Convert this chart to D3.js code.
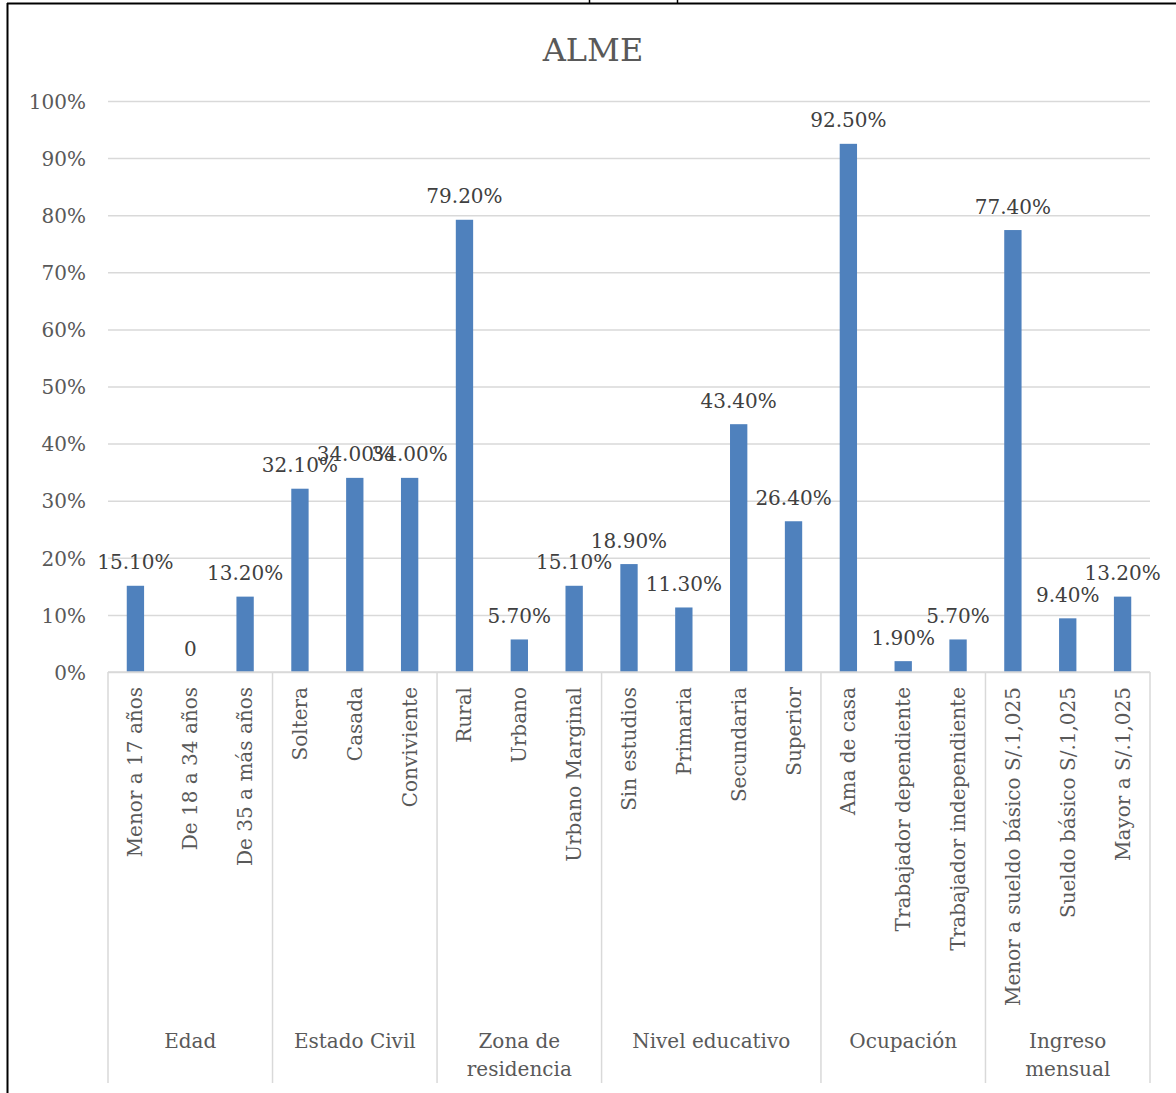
<!DOCTYPE html>
<html>
<head>
<meta charset="utf-8">
<script src="https://cdn.jsdelivr.net/npm/d3@7"></script>
<style>
  html, body { margin: 0; padding: 0; background: #fff; }
  svg { display: block; }
  text { font-family: "DejaVu Serif", "Liberation Serif", serif; }
</style>
</head>
<body>
<svg id="chart" width="1176" height="1093"></svg>
<script>
// Profile categories (bottom axis, rotated)
const categories = [
  "Menor a 17 años", "De 18 a 34 años", "De 35 a más años",
  "Soltera", "Casada", "Conviviente",
  "Rural", "Urbano", "Urbano Marginal",
  "Sin estudios", "Primaria", "Secundaria", "Superior",
  "Ama de casa", "Trabajador dependiente", "Trabajador independiente",
  "Menor a sueldo básico S/.1,025", "Sueldo básico S/.1,025", "Mayor a S/.1,025"
];

// Percentage for each category
const values = [
  15.1, 0, 13.2,
  32.1, 34.0, 34.0,
  79.2, 5.7, 15.1,
  18.9, 11.3, 43.4, 26.4,
  92.5, 1.9, 5.7,
  77.4, 9.4, 13.2
];

// Outer axis level: group names and how many categories each spans
const groupNames = ["Edad", "Estado Civil", "Zona de residencia", "Nivel educativo", "Ocupación", "Ingreso mensual"];
const groupSizes = [3, 3, 3, 4, 3, 3];

const yTicks = [0, 10, 20, 30, 40, 50, 60, 70, 80, 90, 100];
const chartTitle = "ALME";

const svg = d3.select("#chart");

const plot = { left: 108, right: 1150, top: 101, bottom: 672 };

const x = d3.scaleBand()
  .domain(d3.range(categories.length))
  .range([plot.left, plot.right])
  .padding(0);

const y = d3.scaleLinear()
  .domain([0, 100])
  .range([plot.bottom, plot.top]);

const barW = x.bandwidth() * 0.316;
const blue = "#4f81bd";
const gridCol = "#d9d9d9";
const axisText = "#595959";
const labelText = "#404040";

// Frame around the chart
svg.append("line").attr("x1", 7).attr("x2", 1176).attr("y1", 3.5).attr("y2", 3.5)
  .attr("stroke", "#000").attr("stroke-width", 2);
svg.append("line").attr("x1", 7.5).attr("x2", 7.5).attr("y1", 3).attr("y2", 1093)
  .attr("stroke", "#000").attr("stroke-width", 2);
svg.append("line").attr("x1", 589.5).attr("x2", 589.5).attr("y1", 0).attr("y2", 4)
  .attr("stroke", "#000").attr("stroke-width", 1.5);
svg.append("line").attr("x1", 677.5).attr("x2", 677.5).attr("y1", 0).attr("y2", 4)
  .attr("stroke", "#000").attr("stroke-width", 1.5);

// Title
svg.append("text")
  .attr("x", 593).attr("y", 61)
  .attr("text-anchor", "middle")
  .attr("font-size", 32)
  .attr("fill", axisText)
  .text(chartTitle);

// Horizontal gridlines
const yAxis = d3.axisLeft(y)
  .tickValues(yTicks)
  .tickFormat(d => d + "%")
  .tickSize(-(plot.right - plot.left))
  .tickPadding(22);

const gy = svg.append("g")
  .attr("transform", `translate(${plot.left},0)`)
  .call(yAxis);
gy.select(".domain").remove();
gy.selectAll(".tick line").attr("stroke", gridCol).attr("stroke-width", 1.5);
gy.selectAll(".tick text")
  .attr("font-size", 20)
  .attr("font-family", "DejaVu Serif, serif")
  .attr("fill", axisText)
  .attr("dy", "0.36em");

// Bars
svg.append("g").selectAll("rect")
  .data(values)
  .join("rect")
  .attr("x", (d, i) => x(i) + x.bandwidth() / 2 - barW / 2)
  .attr("width", barW)
  .attr("y", d => y(d))
  .attr("height", d => y(0) - y(d))
  .attr("fill", blue);

// Value labels
svg.append("g").selectAll("text")
  .data(values)
  .join("text")
  .attr("x", (d, i) => x(i) + x.bandwidth() / 2)
  .attr("y", d => y(d) - 16.5)
  .attr("text-anchor", "middle")
  .attr("font-size", 20)
  .attr("fill", labelText)
  .text(d => d === 0 ? "0" : d.toFixed(2) + "%");

// Category axis line
svg.append("line")
  .attr("x1", plot.left).attr("x2", plot.right)
  .attr("y1", y(0)).attr("y2", y(0))
  .attr("stroke", gridCol).attr("stroke-width", 1.5);

// Rotated category labels
svg.append("g").selectAll("text")
  .data(categories)
  .join("text")
  .attr("transform", (d, i) => `translate(${x(i) + x.bandwidth() / 2 + 7},${y(0) + 15}) rotate(-90)`)
  .attr("text-anchor", "end")
  .attr("font-size", 20)
  .attr("fill", axisText)
  .text(d => d);

// Group separators and group labels
const bounds = [0];
groupSizes.forEach(n => bounds.push(bounds[bounds.length - 1] + n));
const edgeX = i => i < categories.length ? x(i) : plot.right;

svg.append("g").selectAll("line")
  .data(bounds)
  .join("line")
  .attr("x1", d => edgeX(d)).attr("x2", d => edgeX(d))
  .attr("y1", y(0)).attr("y2", 1083)
  .attr("stroke", gridCol).attr("stroke-width", 1.5);

groupNames.forEach((name, gi) => {
  const x0 = edgeX(bounds[gi]);
  const x1 = edgeX(bounds[gi + 1]);
  const cx = (x0 + x1) / 2;
  const maxW = x1 - x0 - 20;
  const t = svg.append("text")
    .attr("x", cx).attr("y", 1048)
    .attr("text-anchor", "middle")
    .attr("font-size", 20)
    .attr("fill", axisText);
  // simple word wrap within the group's width
  const words = name.split(" ");
  let line = [];
  let lineNo = 0;
  let tspan = t.append("tspan").attr("x", cx).attr("dy", 0);
  words.forEach(w => {
    line.push(w);
    tspan.text(line.join(" "));
    if (tspan.node().getComputedTextLength() > maxW && line.length > 1) {
      line.pop();
      tspan.text(line.join(" "));
      line = [w];
      lineNo++;
      tspan = t.append("tspan").attr("x", cx).attr("dy", 28).text(w);
    }
  });
});
</script>
</body>
</html>
